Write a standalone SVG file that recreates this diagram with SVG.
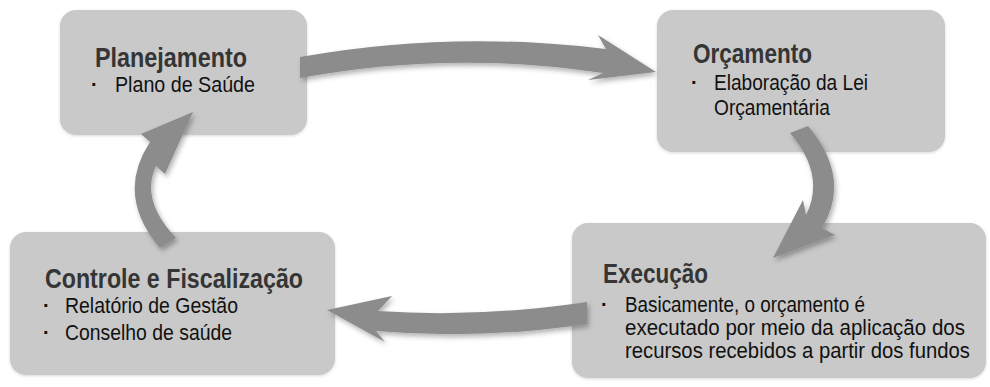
<svg xmlns="http://www.w3.org/2000/svg" width="990" height="387" viewBox="0 0 990 387">
<style>
.box{fill:#c9c9c9;}
.title{font-family:"Liberation Sans Narrow","Liberation Sans",Arial,sans-serif;font-weight:bold;font-size:28.5px;fill:#353535;}
.body{font-family:"Liberation Sans Narrow","Liberation Sans",Arial,sans-serif;font-size:21.5px;fill:#111111;}
.dot{font-family:"Liberation Sans",Arial,sans-serif;font-weight:bold;font-size:20px;fill:#111111;}
.arrow{fill:#8c8c8c;filter:url(#sh);}
</style>
<defs>
<filter id="sh" x="-20%" y="-20%" width="140%" height="160%">
<feDropShadow dx="2" dy="3" stdDeviation="2.5" flood-color="#000" flood-opacity="0.3"/>
</filter>
<filter id="bsh" x="-5%" y="-5%" width="110%" height="115%">
<feDropShadow dx="0" dy="1" stdDeviation="1.5" flood-color="#000" flood-opacity="0.15"/>
</filter>
</defs>
<rect width="990" height="387" fill="#ffffff"/>
<g id="planejamento">
<rect class="box" x="60" y="10" width="247" height="125" rx="16" filter="url(#bsh)"/>
<text class="title" x="95" y="67" textLength="152" lengthAdjust="spacingAndGlyphs">Planejamento</text>
<text class="dot" x="91" y="91">·</text>
<text class="body" x="115" y="92" textLength="140" lengthAdjust="spacingAndGlyphs">Plano de Saúde</text>
</g>
<g id="orcamento">
<rect class="box" x="657" y="10" width="288" height="142" rx="16" filter="url(#bsh)"/>
<text class="title" x="693" y="63" textLength="119" lengthAdjust="spacingAndGlyphs">Orçamento</text>
<text class="dot" x="691" y="89">·</text>
<text class="body" x="714" y="90" textLength="154" lengthAdjust="spacingAndGlyphs">Elaboração da Lei</text>
<text class="body" x="714" y="115" textLength="116" lengthAdjust="spacingAndGlyphs">Orçamentária</text>
</g>
<g id="execucao">
<rect class="box" x="572" y="223" width="414" height="155" rx="16" filter="url(#bsh)"/>
<text class="title" x="603" y="283" textLength="105" lengthAdjust="spacingAndGlyphs">Execução</text>
<text class="dot" x="601" y="311">·</text>
<text class="body" x="625" y="312" textLength="240" lengthAdjust="spacingAndGlyphs">Basicamente, o orçamento é</text>
<text class="body" x="625" y="335" textLength="340" lengthAdjust="spacingAndGlyphs">executado por meio da aplicação dos</text>
<text class="body" x="625" y="358" textLength="345" lengthAdjust="spacingAndGlyphs">recursos recebidos a partir dos fundos</text>
</g>
<g id="controle">
<rect class="box" x="10" y="232" width="325" height="143" rx="16" filter="url(#bsh)"/>
<text class="title" x="45" y="288" textLength="258" lengthAdjust="spacingAndGlyphs">Controle e Fiscalização</text>
<text class="dot" x="43" y="312">·</text>
<text class="body" x="65" y="313" textLength="173" lengthAdjust="spacingAndGlyphs">Relatório de Gestão</text>
<text class="dot" x="43" y="339">·</text>
<text class="body" x="65" y="340" textLength="167" lengthAdjust="spacingAndGlyphs">Conselho de saúde</text>
</g>
<g id="connectors">
<path class="arrow" d="M300,57 Q450,30 606,49 L598,35 L656,72 L588,80 L603,73 Q450,50 300,78 Z"/>
<path class="arrow" d="M808,126 Q852,178 822,228 L835,235 L773,258 L803,200 L806,215 Q826,175 790,133 Z"/>
<path class="arrow" d="M587,302 Q480,318 378,311 L392,296 L327,310 L385,342 L376,331 Q480,340 587,324 Z"/>
<path class="arrow" d="M160,248 Q115,195 150,142 L141,134 L193,112 L165,174 L156,166 Q140,200 176,238 Z"/>
</g>
</svg>
